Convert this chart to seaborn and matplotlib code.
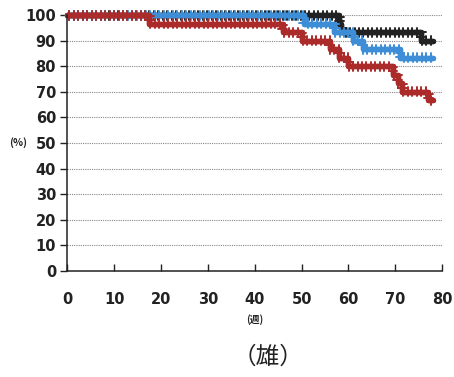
import matplotlib
matplotlib.use("Agg")
import matplotlib.pyplot as plt
import matplotlib.patheffects as pe
import pandas as pd
import seaborn as sns

# survival (%) step events per group
black_weeks = [0, 58, 58.5, 75.5, 78]
black_surv = [100, 96.7, 93.3, 90, 90]
blue_weeks = [0, 50.5, 57, 61, 63, 71, 78]
blue_surv = [100, 96.7, 93.3, 90, 86.7, 83.3, 83.3]
red_weeks = [0, 17.5, 46, 50, 56, 58, 60, 69.5, 70.5, 71.5, 77, 78]
red_surv = [100, 96.7, 93.3, 90, 86.7, 83.3, 80, 76.7, 73.3, 70, 66.7, 66.7]

x_ticks = [0, 10, 20, 30, 40, 50, 60, 70, 80]
y_ticks = [0, 10, 20, 30, 40, 50, 60, 70, 80, 90, 100]

sns.set_theme(style="white")
plt.rcParams["font.family"] = ["DejaVu Sans", "Noto Sans CJK JP"]

fig = plt.figure(figsize=(4.54, 3.77), dpi=100)
ax = fig.add_axes([0.148, 0.281, 0.826, 0.679])

groups = [
    (black_weeks, black_surv, "#222222"),
    (blue_weeks, blue_surv, "#3d8ed6"),
    (red_weeks, red_surv, "#ab2a2a"),
]
for weeks, surv, col in groups:
    df = pd.DataFrame({"week": weeks, "surv": surv})
    sns.lineplot(data=df, x="week", y="surv", ax=ax, color=col, lw=3.8,
                 drawstyle="steps-post", clip_on=False,
                 path_effects=[pe.withTickedStroke(angle=90, spacing=3.2, length=1.0, linewidth=1.4),
                               pe.withTickedStroke(angle=-90, spacing=3.2, length=1.0, linewidth=1.4),
                               pe.Normal()])

ax.set_xlim(0, 80)
ax.set_ylim(0, 100)
ax.set_xticks(x_ticks)
ax.set_yticks(y_ticks)
ax.set_xticklabels([str(v) for v in x_ticks], fontsize=10.5, fontweight="bold", color="#222222")
ax.set_yticklabels([str(v) for v in y_ticks], fontsize=10.5, fontweight="bold", color="#222222")
ax.tick_params(axis="y", direction="out", length=5, width=1, color="#222222", pad=3, left=True)
ax.tick_params(axis="x", direction="in", length=5, width=1, color="#222222", pad=15, bottom=True)
ax.set_xlabel("")
ax.set_ylabel("")

ax.yaxis.grid(True, color="#888888", lw=0.8, ls=(0, (1, 1)))
ax.set_axisbelow(True)
for s in ["top", "right"]:
    ax.spines[s].set_visible(False)
for s in ["left", "bottom"]:
    ax.spines[s].set_color("#222222")
    ax.spines[s].set_linewidth(1.1)

fig.text(18 / 454, 1 - 143 / 377, "(%)", fontsize=7.5, fontweight="bold", ha="center", va="center",
         color="#222222", family=["Noto Sans CJK JP", "DejaVu Sans"])
fig.text(255 / 454, 1 - 320 / 377, "(週)", fontsize=7, fontweight="bold", ha="center", va="center",
         color="#222222", family=["Noto Sans CJK JP", "DejaVu Sans"])
fig.text(268 / 454, 1 - 357 / 377, "（雄）", fontsize=17, ha="center", va="center",
         color="#222222", family=["Noto Sans CJK JP", "DejaVu Sans"])

fig.savefig("out.png", dpi=100)
